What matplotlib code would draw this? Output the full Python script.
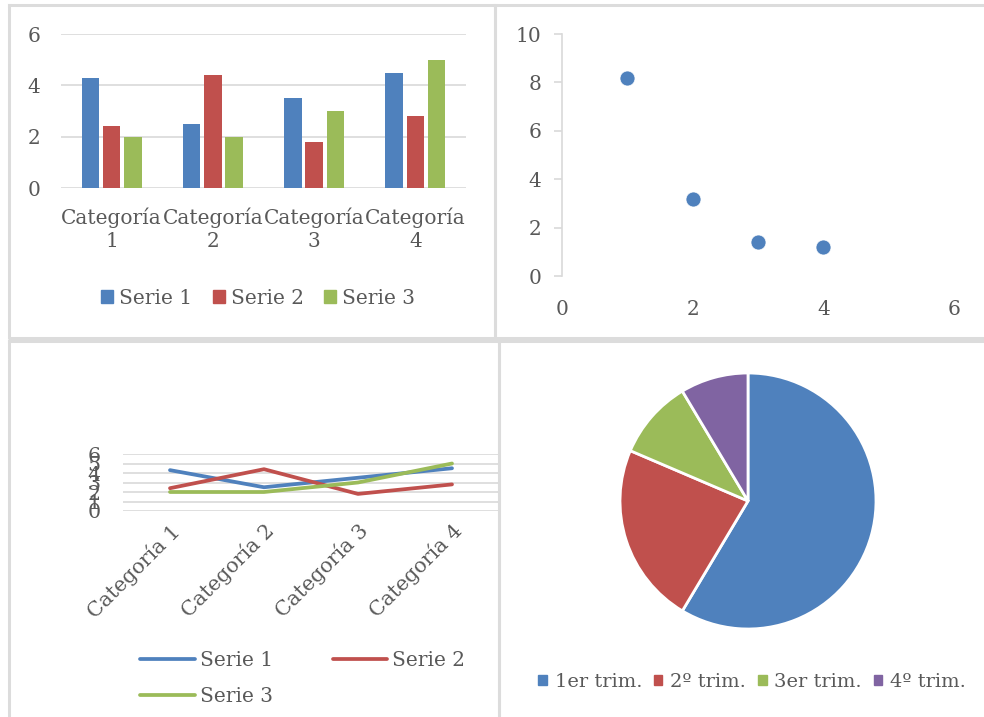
import matplotlib
matplotlib.use("Agg")
import matplotlib.pyplot as plt
import numpy as np
from matplotlib.lines import Line2D
from matplotlib.patches import Patch

W, H = 984, 717

# series data
categorias = ["Categoría 1", "Categoría 2", "Categoría 3", "Categoría 4"]
serie1 = [4.3, 2.5, 3.5, 4.5]
serie2 = [2.4, 4.4, 1.8, 2.8]
serie3 = [2.0, 2.0, 3.0, 5.0]
series_names = ["Serie 1", "Serie 2", "Serie 3"]

scatter_x = [1, 2, 3, 4]
scatter_y = [8.2, 3.2, 1.4, 1.2]

trimestres = ["1er trim.", "2º trim.", "3er trim.", "4º trim."]
ventas = [8.2, 3.2, 1.4, 1.2]

azul, rojo, verde, morado = "#4F81BD", "#C0504D", "#9BBB59", "#8064A2"
texto = "#595959"
rejilla = "#D9D9D9"

plt.rcParams["font.family"] = "DejaVu Serif"
plt.rcParams["font.size"] = 14
plt.rcParams["text.color"] = texto
plt.rcParams["xtick.color"] = texto
plt.rcParams["ytick.color"] = texto


def caja(x0, y0, x1, y1):
    # pixel box (top-left origin) -> figure fraction rect
    return [x0 / W, 1 - y1 / H, (x1 - x0) / W, (y1 - y0) / H]


def limpiar(ax):
    for s in ax.spines.values():
        s.set_visible(False)


fig = plt.figure(figsize=(W / 100, H / 100), dpi=100)

# panel frames
marco = "#DCDCDC"
for (x0, y0, x1, y1) in [(9, 5, 495, 338), (495, 5, 990, 338),
                         (9, 341, 499, 725), (499, 341, 990, 725)]:
    xs = np.array([x0, x1, x1, x0, x0]) / W
    ys = 1 - np.array([y0, y0, y1, y1, y0]) / H
    fig.add_artist(Line2D(xs, ys, color=marco, lw=2.2))

# --- column chart ---
ax1 = fig.add_axes(caja(61, 34, 466, 188))
x = np.arange(len(categorias))
paso, ancho = 0.21, 0.172
for i, (vals, col) in enumerate(zip([serie1, serie2, serie3], [azul, rojo, verde])):
    ax1.bar(x + (i - 1) * paso, vals, ancho, color=col, zorder=3)
ax1.set_xlim(-0.5, 3.5)
ax1.set_ylim(0, 6)
ax1.set_yticks([0, 2, 4, 6])
ax1.yaxis.grid(True, color=rejilla, lw=1.2)
ax1.set_xticks(x)
ax1.set_xticklabels([c.replace(" ", "\n") for c in categorias], linespacing=1.25)
ax1.tick_params(axis="both", length=0, labelsize=14.5)
ax1.tick_params(axis="y", pad=15)
ax1.tick_params(axis="x", pad=14)
limpiar(ax1)
fig.legend([Patch(color=c) for c in [azul, rojo, verde]], series_names,
           loc="center", bbox_to_anchor=(258 / W, 1 - 298 / H), ncol=3,
           frameon=False, handlelength=0.6, handleheight=0.6,
           handletextpad=0.3, columnspacing=1.0, fontsize=14.5)

# --- scatter chart ---
ax2 = fig.add_axes(caja(562, 34, 954, 276))
ax2.plot(scatter_x, scatter_y, "o", color=azul, markersize=10.8,
         markeredgecolor="white", markeredgewidth=0.5, clip_on=False)
ax2.set_xlim(0, 6)
ax2.set_ylim(0, 10)
ax2.set_xticks([0, 2, 4, 6])
ax2.set_yticks([0, 2, 4, 6, 8, 10])
limpiar(ax2)
ax2.spines["left"].set_visible(True)
ax2.spines["left"].set_color(rejilla)
ax2.spines["left"].set_linewidth(1.2)
ax2.tick_params(axis="y", length=6, color=rejilla, width=1.2, pad=9, labelsize=14.5)
ax2.tick_params(axis="x", length=0, pad=17, labelsize=14.5)

# --- line chart ---
ax3 = fig.add_axes(caja(123, 454, 499, 511))
xc = np.arange(len(categorias)) + 0.5
lineas = []
for vals, col in zip([serie1, serie2, serie3], [azul, rojo, verde]):
    lineas += ax3.plot(xc, vals, color=col, lw=2.7, solid_capstyle="round")
ax3.set_xlim(0, 4)
ax3.set_ylim(0, 6)
ax3.set_yticks(range(7))
ax3.yaxis.grid(True, color=rejilla, lw=1.2)
ax3.set_xticks(xc)
ax3.set_xticklabels(categorias, rotation=45, ha="right", va="top",
                    rotation_mode="anchor")
ax3.tick_params(axis="both", length=0, labelsize=14.8)
ax3.tick_params(axis="y", pad=16)
ax3.tick_params(axis="x", pad=7)
limpiar(ax3)
# legend filled row by row: Serie 1, Serie 2 / Serie 3
fig.legend([lineas[0], lineas[2], lineas[1]],
           [series_names[0], series_names[2], series_names[1]],
           loc="upper left", bbox_to_anchor=(122 / W, 1 - 633 / H), ncol=2,
           frameon=False, handlelength=2.7, handletextpad=0.25,
           columnspacing=3.0, labelspacing=0.85, fontsize=14.5)

# --- pie chart ---
ax4 = fig.add_axes(caja(620, 373, 876, 629))
ax4.pie(ventas, colors=[azul, rojo, verde, morado], startangle=90,
        counterclock=False, radius=1,
        wedgeprops=dict(edgecolor="white", linewidth=2))
ax4.set_xlim(-1, 1)
ax4.set_ylim(-1, 1)
ax4.set_aspect("equal")
fig.legend([Patch(color=c) for c in [azul, rojo, verde, morado]], trimestres,
           loc="center", bbox_to_anchor=(752 / W, 1 - 682 / H), ncol=4,
           frameon=False, handlelength=0.45, handleheight=0.45,
           handletextpad=0.4, columnspacing=0.6, fontsize=14)

fig.savefig("out.png", dpi=100)
